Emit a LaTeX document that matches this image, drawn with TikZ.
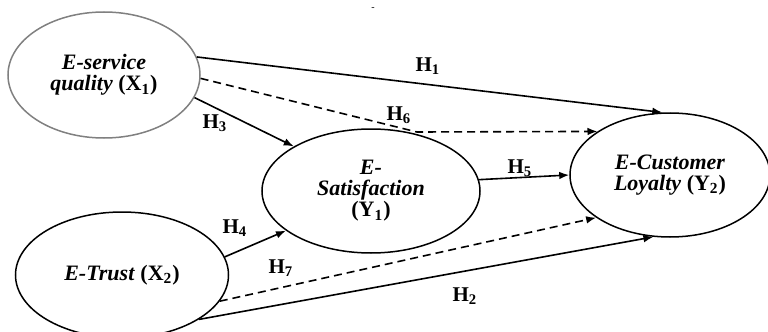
\documentclass[tikz,border=0pt]{standalone}
\usepackage{fontspec}
\setmainfont{Liberation Serif}
\usetikzlibrary{shapes.geometric,arrows.meta}
\tikzset{%
  latent/.style={ellipse, draw, line width=0.75pt, inner sep=0pt, align=center,
                 font=\fontsize{11}{10.5}\selectfont\bfseries\itshape},
  link/.style={line width=0.8pt, -{Latex[length=5pt,width=3.8pt]}},
  dlink/.style={link, dash pattern=on 4pt off 2.5pt},
  hlab/.style={font=\fontsize{10.5}{10.5}\selectfont\bfseries, inner sep=0pt},
}

\begin{document}
\begin{tikzpicture}[x=0.5pt, y=-0.5pt]
    \useasboundingbox (0,0) rectangle (768,332);

    %constructs
    \node[latent, draw=gray, minimum width=96pt, minimum height=63pt] (x1) at (104,75)
        {E-service\\quality \textup{(X\textsubscript{1})}};
    \node[latent, minimum width=106.5pt, minimum height=63pt] (x2) at (122,275)
        {E-Trust \textup{(X\textsubscript{2})}};
    \node[latent, minimum width=109pt, minimum height=62pt] (y1) at (371,191)
        {E-\\Satisfaction\\\textup{(Y\textsubscript{1})}};
    \node[latent, minimum width=100pt, minimum height=62pt] (y2) at (670,175)
        {E-Customer\\Loyalty \textup{(Y\textsubscript{2})}};
    \node[font=\tiny, inner sep=0pt] (mark) at (373,9) {-};

    \coordinate (h6bend) at (417,132);

    %direct paths
    \draw[link] (x1.11) -- (y2.97);
    \draw[link] (x1.-14) -- (y1.150);
    \draw[link] (x2.10) -- (y1.205);
    \draw[link] (y1.6) -- (y2.180);
    \draw[link] (x2.-30) -- (y2.255);

    %mediated paths
    \draw[dlink] (x1.-2) -- (h6bend) -- (y2.149);
    \draw[dlink] (x2.-15) -- (y2.210);

    %hypotheses
    \node[hlab] (lh1) at (428,66) {H\textsubscript{1}};
    \node[hlab] (lh2) at (465,296) {H\textsubscript{2}};
    \node[hlab] (lh3) at (215,123) {H\textsubscript{3}};
    \node[hlab] (lh4) at (235,228) {H\textsubscript{4}};
    \node[hlab] (lh5) at (520,168) {H\textsubscript{5}};
    \node[hlab] (lh6) at (399,115) {H\textsubscript{6}};
    \node[hlab] (lh7) at (281,268) {H\textsubscript{7}};
\end{tikzpicture}
\end{document}
